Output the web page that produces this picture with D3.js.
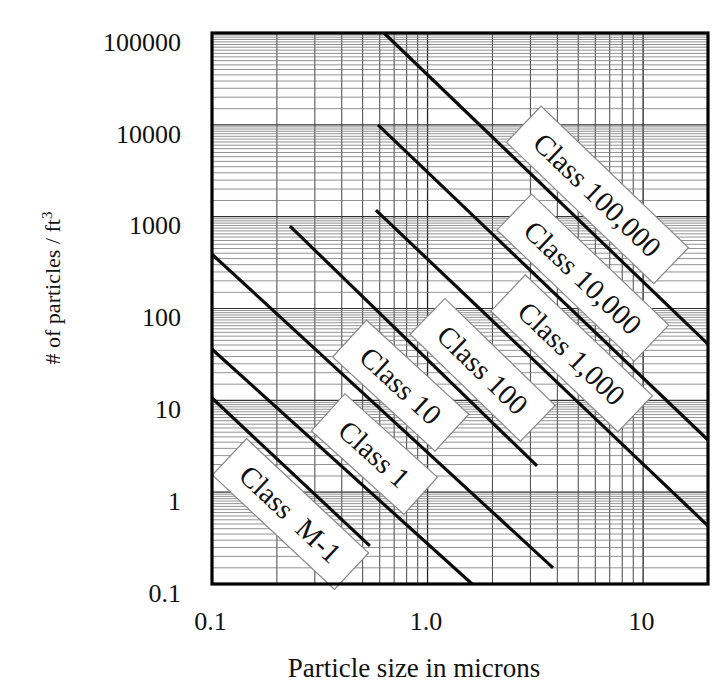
<!DOCTYPE html>
<html>
<head>
<meta charset="utf-8">
<script src="https://cdn.jsdelivr.net/npm/d3@7"></script>
<style>
  html, body { margin: 0; padding: 0; background: #fff; }
  svg { display: block; }
  text { font-family: "Liberation Serif", "Times New Roman", serif; fill: #111; }
</style>
</head>
<body>
<svg class="js-render-chart" width="719" height="683"></svg>
<script>
"use strict";

//data

const classNames = ["Class 100,000", "Class 10,000", "Class 1,000", "Class 100", "Class 10", "Class 1", "Class  M-1"];

//each class line runs from (sizeStart, countStart) to (sizeEnd, countEnd)
const sizeStart = [0.628, 0.589, 0.576, 0.23, 0.1, 0.1, 0.1];
const countStart = [100000, 10000, 1180, 790, 390, 36, 10.6];
const sizeEnd = [20, 20, 20, 3.22, 3.82, 1.61, 0.54];
const countEnd = [41, 3.7, 0.43, 1.93, 0.15, 0.1, 0.26];

//particle size where each class tag sits on its line
const tagAt = [4.88, 4.18, 3.71, 1.43, 0.6, 0.454, 0.29];
const tagSide = [1, 1, 1, 1, 1, 1, -1];

const xTicks = [0.1, 1, 10];
const xTickLabels = ["0.1", "1.0", "10"];
const yTicks = [0.1, 1, 10, 100, 1000, 10000, 100000];
const yTickLabels = ["0.1", "1", "10", "100", "1000", "10000", "100000"];

const xDomain = [0.1, 20];
const yDomain = [0.1, 100000];

//chart logic

const chart = {

  //params

  params() {
    return {
      left: 212,
      right: 708,
      top: 33,
      bottom: 584,
      svg: d3.select(".js-render-chart"),
      x: null,
      y: null
    };
  },

  //scales

  scales(p) {

    p.x = d3.scaleLog().domain(xDomain).range([p.left, p.right]);
    p.y = d3.scaleLog().domain(yDomain).range([p.bottom, p.top]);

  },

  //log paper grid

  grid(p) {

    const xs = [];
    const ys = [];

    for (let k = -1; k <= 1; k++) {
      for (let m = 1; m <= 9; m++) {
        const v = m * Math.pow(10, k);
        if (v > xDomain[0] && v < xDomain[1]) xs.push(v);
      }
    }

    for (let k = -1; k <= 4; k++) {
      for (let m = 1; m < 10; m += 0.5) {
        const v = m * Math.pow(10, k);
        if (v > yDomain[0] && v < yDomain[1]) ys.push(v);
      }
    }

    const g = p.svg.append("g");

    g.selectAll(".vx")
      .data(xs)
      .enter()
      .append("line")
      .attr("x1", (d) => p.x(d))
      .attr("x2", (d) => p.x(d))
      .attr("y1", p.top)
      .attr("y2", p.bottom)
      .attr("stroke", (d) => xTicks.includes(d) ? "#222" : "#444")
      .attr("stroke-width", (d) => xTicks.includes(d) ? 1.3 : 1);

    g.selectAll(".hy")
      .data(ys)
      .enter()
      .append("line")
      .attr("x1", p.left)
      .attr("x2", p.right)
      .attr("y1", (d) => p.y(d))
      .attr("y2", (d) => p.y(d))
      .attr("stroke", (d) => yTicks.includes(d) ? "#333" : "#777")
      .attr("stroke-width", (d) => yTicks.includes(d) ? 1.2 : 0.8);

  },

  //class tags

  tags(p) {

    const g = p.svg.append("g");

    classNames.forEach((name, i) => {

      const xa = p.x(sizeStart[i]);
      const ya = p.y(countStart[i]);
      const xb = p.x(sizeEnd[i]);
      const yb = p.y(countEnd[i]);

      const ang = Math.atan2(yb - ya, xb - xa);
      const t = (p.x(tagAt[i]) - xa) / (xb - xa);
      const off = 31 * tagSide[i];

      const cx = xa + t * (xb - xa) + off * Math.sin(ang);
      const cy = ya + t * (yb - ya) - off * Math.cos(ang);

      const tag = g.append("g")
        .attr("transform", `translate(${cx},${cy}) rotate(${ang * 180 / Math.PI})`);

      const rect = tag.append("rect");

      const label = tag.append("text")
        .attr("text-anchor", "middle")
        .attr("dominant-baseline", "central")
        .attr("font-size", 29)
        .style("white-space", "pre")
        .text(name);

      const w = label.node().getComputedTextLength() + 40;

      rect.attr("x", -w / 2)
        .attr("y", -25)
        .attr("width", w)
        .attr("height", 50)
        .attr("fill", "#fff")
        .attr("stroke", "#888")
        .attr("stroke-width", 1.2);

    });

  },

  //class lines

  lines(p) {

    p.svg.append("g")
      .selectAll("line")
      .data(classNames)
      .enter()
      .append("line")
      .attr("x1", (d, i) => p.x(sizeStart[i]))
      .attr("y1", (d, i) => p.y(countStart[i]))
      .attr("x2", (d, i) => p.x(sizeEnd[i]))
      .attr("y2", (d, i) => p.y(countEnd[i]))
      .attr("stroke", "#0a0a0a")
      .attr("stroke-width", 3.2);

  },

  //frame and axes

  axes(p) {

    p.svg.append("rect")
      .attr("x", p.left)
      .attr("y", p.top)
      .attr("width", p.right - p.left)
      .attr("height", p.bottom - p.top)
      .attr("fill", "none")
      .attr("stroke", "#000")
      .attr("stroke-width", 3.2);

    const yAxis = d3.axisLeft(p.y)
      .tickValues(yTicks)
      .tickFormat((d, i) => yTickLabels[i])
      .tickSize(0)
      .tickPadding(31);

    const xAxis = d3.axisBottom(p.x)
      .tickValues(xTicks)
      .tickFormat((d, i) => xTickLabels[i])
      .tickSize(0)
      .tickPadding(28);

    const ya = p.svg.append("g")
      .attr("transform", `translate(${p.left},9)`)
      .call(yAxis);

    const xa = p.svg.append("g")
      .attr("transform", `translate(-2,${p.bottom})`)
      .call(xAxis);

    [ya, xa].forEach((a) => {
      a.select(".domain").remove();
      a.selectAll("text")
        .attr("font-family", null)
        .attr("font-size", 26)
        .attr("fill", "#111");
    });

    //titles

    p.svg.append("text")
      .attr("x", 414)
      .attr("y", 668)
      .attr("text-anchor", "middle")
      .attr("dominant-baseline", "central")
      .attr("font-size", 27)
      .text("Particle size in microns");

    const yt = p.svg.append("text")
      .attr("transform", "translate(60,288) rotate(-90)")
      .attr("text-anchor", "middle")
      .attr("font-size", 22);

    yt.append("tspan").text("# of particles / ft");
    yt.append("tspan")
      .attr("baseline-shift", "super")
      .attr("font-size", 15)
      .text("3");

  }

};

//initialize chart

const p = chart.params();

chart.scales(p);
chart.grid(p);
chart.tags(p);
chart.lines(p);
chart.axes(p);

</script>
</body>
</html>
